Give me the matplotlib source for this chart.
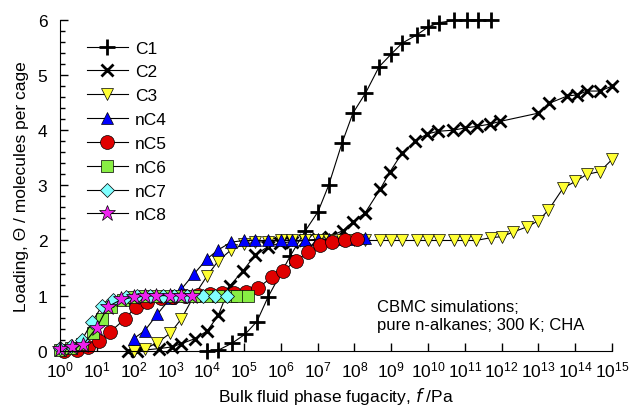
import numpy as np
import matplotlib
matplotlib.use("Agg")
import matplotlib.pyplot as plt
from matplotlib.ticker import MultipleLocator, FixedLocator

plt.rcParams["font.family"] = ["Liberation Sans", "DejaVu Sans"]

# fugacity given as log10(f / Pa), loading in molecules per cage
c1_logf = [4.0, 4.3, 4.68, 5.03, 5.35, 5.65, 6.25, 6.66, 7.01, 7.3, 7.66, 7.96, 8.3, 8.67,
           9.0, 9.3, 9.7, 10.0, 10.3, 10.7, 11.05, 11.35, 11.7]
c1_load = [0.0, 0.01, 0.14, 0.3, 0.53, 0.97, 1.71, 2.17, 2.52, 3.0, 3.76, 4.31, 4.67, 5.15,
           5.38, 5.58, 5.73, 5.87, 5.95, 5.99, 6.0, 6.0, 6.0]

c2_logf = [1.85, 2.1, 2.7, 3.04, 3.3, 3.67, 4.0, 4.3, 4.62, 4.97, 5.3, 5.65, 5.97, 6.3, 6.65,
           7.0, 7.33, 7.69, 7.96, 8.29, 8.7, 8.97, 9.29, 9.65, 9.97, 10.27, 10.68, 11.0,
           11.33, 11.68, 11.96, 13.0, 13.3, 13.78, 14.05, 14.32, 14.67, 15.0]
c2_load = [0.0, 0.0, 0.04, 0.07, 0.13, 0.22, 0.36, 0.64, 1.18, 1.45, 1.73, 1.89, 1.95, 1.98,
           2.0, 2.02, 2.07, 2.18, 2.34, 2.5, 2.93, 3.25, 3.58, 3.8, 3.93, 3.98, 4.0, 4.04,
           4.07, 4.11, 4.16, 4.31, 4.49, 4.62, 4.64, 4.71, 4.71, 4.8]

c3_logf = [2.0, 2.3, 2.65, 3.0, 3.3, 3.62, 4.0, 4.3, 4.65, 5.0, 5.3, 5.65, 6.0, 6.3, 6.65,
           7.0, 7.3, 7.65, 8.0, 8.3, 8.7, 9.0, 9.3, 9.7, 10.0, 10.3, 10.7, 11.0, 11.3, 11.7,
           12.0, 12.3, 12.7, 13.0, 13.27, 13.67, 14.0, 14.32, 14.67, 15.0]
c3_load = [0.0, 0.03, 0.15, 0.32, 0.58, 0.97, 1.36, 1.63, 1.83, 1.93, 1.97, 1.98, 2.0, 2.0,
           2.0, 2.0, 2.0, 2.0, 2.0, 2.0, 2.0, 2.0, 2.0, 2.0, 2.0, 2.0, 2.0, 2.0, 2.0, 2.05,
           2.07, 2.15, 2.25, 2.36, 2.55, 2.95, 3.07, 3.2, 3.25, 3.47]

nc4_logf = [2.0, 2.3, 2.65, 3.0, 3.3, 3.65, 4.0, 4.3, 4.65, 5.0, 5.3, 5.65, 6.0, 6.3, 6.65,
            7.0, 7.3, 7.65, 8.0, 8.3]
nc4_load = [0.22, 0.36, 0.67, 0.95, 1.12, 1.4, 1.67, 1.83, 1.97, 2.0, 2.0, 2.0, 2.0, 2.0,
            2.0, 2.02, 2.02, 2.03, 2.03, 2.04]

nc5_logf = [0.1, 0.45, 0.76, 1.06, 1.36, 1.77, 2.07, 2.36, 2.75, 3.08, 3.4, 3.75, 4.08, 4.4,
            4.72, 5.05, 5.38, 5.75, 6.06, 6.4, 6.75, 7.07, 7.4, 7.75, 8.07]
nc5_load = [0.0, 0.02, 0.07, 0.18, 0.34, 0.58, 0.8, 0.88, 0.95, 0.98, 1.0, 1.02, 1.03, 1.04,
            1.05, 1.07, 1.14, 1.33, 1.45, 1.62, 1.8, 1.91, 1.98, 2.0, 2.02]

nc6_logf = [0.0, 0.3, 0.6, 0.9, 1.15, 1.4, 1.7, 2.0, 2.3, 2.65, 3.0, 3.3, 3.65, 4.0, 4.3,
            4.65, 4.8, 5.1]
nc6_load = [0.02, 0.05, 0.12, 0.32, 0.58, 0.8, 0.92, 0.97, 0.99, 1.0, 1.0, 1.0, 1.0, 1.0,
            1.0, 1.0, 1.0, 1.0]

nc7_logf = [0.0, 0.3, 0.6, 0.87, 1.15, 1.45, 1.8, 2.1, 2.45, 2.8, 3.1, 3.45, 3.9, 4.2, 4.55]
nc7_load = [0.05, 0.08, 0.2, 0.52, 0.82, 0.92, 0.97, 1.0, 1.0, 1.0, 1.0, 1.0, 1.0, 1.0, 1.0]

nc8_logf = [0.0, 0.33, 0.63, 1.0, 1.3, 1.67, 2.0, 2.3, 2.6, 3.0, 3.3, 3.6]
nc8_load = [0.04, 0.06, 0.11, 0.42, 0.8, 0.93, 0.97, 0.99, 1.0, 1.0, 1.0, 1.0]

# 図の準備
fig = plt.figure(figsize=(6.31, 4.10), dpi=100)
ax = fig.add_axes([0.095, 0.142, 0.875, 0.807])

# (label, x, y, marker, colour, size)
series = [
    ("C1", c1_logf, c1_load, "+", "black", 11),
    ("C2", c2_logf, c2_load, "x", "black", 9),
    ("C3", c3_logf, c3_load, "v", "#ffff33", 9),
    ("nC4", nc4_logf, nc4_load, "^", "#0000ff", 9),
    ("nC5", nc5_logf, nc5_load, "o", "#e00000", 10),
    ("nC6", nc6_logf, nc6_load, "s", "#88ee44", 8),
    ("nC7", nc7_logf, nc7_load, "D", "#80ffff", 7),
    ("nC8", nc8_logf, nc8_load, "*", "#ee22ee", 12),
]

for label, lf, y, mk, col, ms in series:
    f = 10.0 ** np.array(lf)
    if mk in ("+", "x"):
        ax.plot(f, y, color="black", lw=0.8, marker=mk, ms=ms, mew=2.0,
                label=label, clip_on=False)
    else:
        ax.plot(f, y, color="black", lw=0.8, marker=mk, ms=ms, mfc=col,
                mec="black", mew=0.5, label=label, clip_on=False)

ax.set_xscale("log")
ax.set_xlim(1, 1e15)
ax.set_ylim(0, 6)

ax.xaxis.set_major_locator(FixedLocator(10.0 ** np.arange(0, 16)))
ax.xaxis.set_minor_locator(FixedLocator([]))
ax.yaxis.set_major_locator(MultipleLocator(1))
ax.yaxis.set_minor_locator(MultipleLocator(0.2))

# 上と右の枠線を消す
ax.spines["right"].set_visible(False)
ax.spines["top"].set_visible(False)
ax.tick_params(which="both", direction="in", labelsize=12.5, width=1)
ax.tick_params(which="major", length=6)
ax.tick_params(which="minor", length=3.5)
ax.tick_params(axis="x", which="major", pad=6)
ax.tick_params(axis="y", which="major", pad=9)

ax.set_xlabel("Bulk fluid phase fugacity, $\\mathit{f}$ /Pa", fontsize=12.5, labelpad=4)
ax.set_ylabel("Loading, Θ / molecules per cage", fontsize=12.5, labelpad=6)

ax.text(0.575, 0.058, "CBMC simulations;\npure n-alkanes; 300 K; CHA",
        transform=ax.transAxes, fontsize=12, linespacing=1.2, va="bottom", ha="left")

ax.legend(loc="upper left", bbox_to_anchor=(0.02, 0.985), frameon=False, fontsize=12.5,
          handlelength=2.4, labelspacing=0.5, handletextpad=0.4)

fig.savefig("out.png", dpi=100)
